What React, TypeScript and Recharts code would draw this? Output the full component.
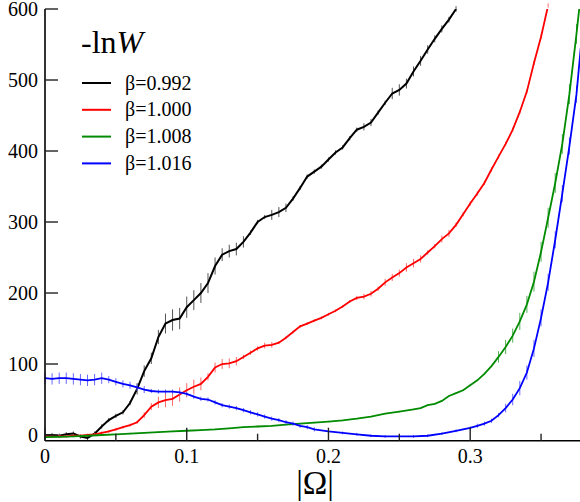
import React from 'react';
import { LineChart, Line, XAxis, YAxis, ErrorBar, Legend } from 'recharts';

// ---------- data ----------
const seriesNames = ['β=0.992', 'β=1.000', 'β=1.008', 'β=1.016'];
const seriesColors = ['#000000', '#ff0000', '#008b00', '#0000ff'];
const barColors = ['#555555', '#ff6a6a', '#55b055', '#6a6aff'];

const blackX = [0, 0.005, 0.01, 0.015, 0.02, 0.025, 0.03, 0.035, 0.04, 0.045, 0.05, 0.055, 0.06, 0.065, 0.07, 0.075, 0.08, 0.085, 0.09, 0.095, 0.1, 0.105, 0.11, 0.115, 0.12, 0.125, 0.13, 0.135, 0.14, 0.145, 0.15, 0.155, 0.16, 0.165, 0.17, 0.175, 0.18, 0.185, 0.19, 0.195, 0.2, 0.205, 0.21, 0.215, 0.22, 0.225, 0.23, 0.235, 0.24, 0.245, 0.25, 0.255, 0.26, 0.265, 0.27, 0.275, 0.28, 0.285, 0.29];
const blackY = [0, 0, -1, 1, 2, -2, -4, 2, 12, 21, 27, 32, 45, 65, 90, 108, 138, 157, 162, 164, 180, 190, 200, 214, 238, 254, 259, 262, 272, 285, 300, 307, 310, 314, 320, 333, 348, 364, 371, 378, 388, 398, 405, 418, 430, 434, 440, 454, 468, 481, 486, 495, 512, 527, 543, 558, 572, 585, 600];
const blackErr = [3, 3, 3, 3, 3, 3, 4, 3, 3, 3, 3, 3, 3, 8, 8, 8, 10, 14, 15, 15, 15, 14, 14, 14, 12, 9, 9, 9, 8, 3, 3, 3, 7, 7, 6, 3, 3, 3, 3, 3, 3, 3, 3, 3, 3, 5, 5, 3, 3, 8, 8, 7, 7, 7, 6, 5, 5, 4, 4];

const redX = [0, 0.005, 0.01, 0.015, 0.02, 0.025, 0.03, 0.035, 0.04, 0.045, 0.05, 0.055, 0.06, 0.065, 0.07, 0.075, 0.08, 0.085, 0.09, 0.095, 0.1, 0.105, 0.11, 0.115, 0.12, 0.125, 0.13, 0.135, 0.14, 0.145, 0.15, 0.155, 0.16, 0.165, 0.17, 0.175, 0.18, 0.185, 0.19, 0.195, 0.2, 0.205, 0.21, 0.215, 0.22, 0.225, 0.23, 0.235, 0.24, 0.245, 0.25, 0.255, 0.26, 0.265, 0.27, 0.275, 0.28, 0.285, 0.29, 0.295, 0.3, 0.305, 0.31, 0.315, 0.32, 0.325, 0.33, 0.335, 0.34, 0.345, 0.35, 0.355];
const redY = [-1, -2, -2, -2, -1, -1, 0, 1, 3, 5, 8, 11, 14, 18, 28, 40, 46, 49, 51, 57, 63, 68, 72, 82, 95, 100, 101, 104, 110, 116, 122, 126, 127, 130, 137, 145, 153, 157, 161, 165, 170, 175, 181, 188, 193, 195, 199, 206, 215, 222, 228, 236, 242, 248, 257, 266, 276, 284, 296, 311, 326, 340, 355, 374, 392, 410, 430, 455, 484, 524, 561, 605];
const redErr = [2, 2, 2, 2, 2, 2, 2, 2, 2, 2, 2, 2, 2, 2, 4, 5, 8, 10, 10, 10, 10, 10, 9, 5, 7, 7, 7, 6, 3, 3, 3, 4, 4, 2, 2, 2, 2, 2, 2, 2, 2, 2, 2, 2, 3, 4, 4, 3, 5, 5, 5, 6, 6, 5, 3, 3, 5, 5, 3, 3, 3, 3, 3, 3, 3, 3, 3, 3, 3, 3, 3, 3];

const greenX = [0, 0.01, 0.02, 0.03, 0.04, 0.05, 0.06, 0.07, 0.08, 0.09, 0.1, 0.11, 0.12, 0.13, 0.14, 0.15, 0.16, 0.17, 0.18, 0.19, 0.2, 0.21, 0.22, 0.23, 0.24, 0.25, 0.26, 0.265, 0.27, 0.275, 0.28, 0.285, 0.29, 0.295, 0.3, 0.305, 0.31, 0.315, 0.32, 0.325, 0.33, 0.335, 0.34, 0.345, 0.35, 0.355, 0.36, 0.365, 0.37, 0.375, 0.378];
const greenY = [-3, -2.5, -2, -1, 0, 1, 2, 3, 4, 5, 6, 7, 8, 9.5, 11, 12, 13, 14.5, 16, 17.5, 19, 20.5, 23, 26, 30, 33, 36, 38, 42, 44, 48, 55, 59, 63, 70, 77, 86, 97, 110, 124, 140, 160, 184, 216, 258, 306, 355, 410, 480, 565, 620];
const greenErr = [1, 1, 1, 1, 1, 1, 1, 1, 1, 1, 1, 1, 1, 1, 1, 1, 1, 1, 1, 1, 1, 1, 1, 1, 1, 1, 1, 1, 1, 1, 1, 1, 1, 1, 1, 1, 1, 1, 8, 10, 10, 12, 12, 14, 14, 14, 14, 14, 14, 14, 14];

const blueX = [0, 0.005, 0.01, 0.015, 0.02, 0.025, 0.03, 0.035, 0.04, 0.045, 0.05, 0.055, 0.06, 0.065, 0.07, 0.075, 0.08, 0.085, 0.09, 0.095, 0.1, 0.105, 0.11, 0.115, 0.12, 0.125, 0.13, 0.135, 0.14, 0.145, 0.15, 0.155, 0.16, 0.165, 0.17, 0.175, 0.18, 0.185, 0.19, 0.2, 0.21, 0.22, 0.23, 0.24, 0.25, 0.26, 0.27, 0.28, 0.29, 0.3, 0.305, 0.31, 0.315, 0.32, 0.325, 0.33, 0.335, 0.34, 0.345, 0.35, 0.355, 0.36, 0.365, 0.37, 0.375, 0.378];
const blueY = [80, 79, 80, 80, 79, 78, 77, 78, 80, 78, 75, 72, 70, 67, 64, 62, 61, 61, 61, 60, 58, 54, 51, 50, 46, 42, 40, 38, 35, 32, 29, 26, 23, 21, 18, 16, 13, 11, 8, 5, 3, 1, -1, -2, -2, -2, -1, 2, 6, 10, 13, 16, 20, 28, 38, 50, 66, 88, 122, 165, 215, 275, 340, 407, 480, 545];
const blueErr = [8, 8, 8, 8, 8, 8, 8, 8, 8, 5, 5, 5, 5, 5, 5, 3, 3, 3, 3, 3, 3, 3, 3, 3, 3, 3, 3, 3, 3, 3, 3, 3, 3, 3, 3, 3, 3, 3, 3, 2, 2, 2, 2, 2, 2, 2, 2, 2, 2, 2, 3, 3, 3, 3, 6, 8, 10, 10, 12, 12, 12, 12, 12, 12, 12, 12];

const xTicks = [0, 0.05, 0.1, 0.15, 0.2, 0.25, 0.3, 0.35];
const xTickLabels = ['0', '', '0.1', '', '0.2', '', '0.3', ''];
const yTicks = [0, 100, 200, 300, 400, 500, 600];
const yTickLabels = ['0', '100', '200', '300', '400', '500', '600'];

const rows = (xs: number[], ys: number[], es: number[]) =>
  xs.map((x, i) => ({ x, y: ys[i], err: es[i] }));

const seriesData = [
  rows(blackX, blackY, blackErr),
  rows(redX, redY, redErr),
  rows(greenX, greenY, greenErr),
  rows(blueX, blueY, blueErr),
];

const FONT = '"Liberation Serif", "DejaVu Serif", serif';

const XTick = (p: any) => {
  const idx = xTicks.indexOf(p.payload.value);
  const lab = xTickLabels[idx] ?? '';
  const major = lab !== '';
  const len = major ? 13 : 7;
  const dir = p.side === 'bottom' ? -1 : 1;
  return (
    <g>
      <line x1={p.x} x2={p.x} y1={p.y} y2={p.y + dir * len} stroke="#222" strokeWidth={1.4} />
      {p.side === 'bottom' && major ? (
        <text x={p.x} y={p.y + 22} textAnchor="middle" fontFamily={FONT} fontSize={20} fill="#000">
          {lab}
        </text>
      ) : null}
    </g>
  );
};

const YTick = (p: any) => {
  const idx = yTicks.indexOf(p.payload.value);
  const lab = yTickLabels[idx] ?? '';
  const dir = p.side === 'left' ? 1 : -1;
  return (
    <g>
      <line x1={p.x} x2={p.x + dir * 13} y1={p.y} y2={p.y} stroke="#222" strokeWidth={1.4} />
      {p.side === 'left' ? (
        <text x={p.x - 7} y={p.y + 7} textAnchor="end" fontFamily={FONT} fontSize={20} fill="#000">
          {lab}
        </text>
      ) : null}
    </g>
  );
};

const LegendBox = () => (
  <svg width={260} height={180} style={{ display: 'block', overflow: 'visible' }}>
    <text x={81} y={53} fontFamily={FONT} fontSize={32} fill="#000">
      -ln<tspan fontStyle="italic">W</tspan>
    </text>
    {seriesNames.map((n, i) => {
      const ly = 83 + i * 26.8;
      return (
        <g key={n}>
          <line x1={82} x2={111} y1={ly} y2={ly} stroke={seriesColors[i]} strokeWidth={2} />
          <text x={125} y={ly + 6.5} fontFamily={FONT} fontSize={20} fill="#000">
            {n}
          </text>
        </g>
      );
    })}
  </svg>
);

export default function App() {
  return (
    <div
      style={{
        position: 'absolute',
        left: 0,
        top: 0,
        width: 580,
        height: 502,
        overflow: 'hidden',
        background: '#fff',
      }}
    >
      <LineChart width={590} height={502} margin={{ top: 9, right: 5, bottom: 0, left: 0 }}>
        <XAxis
          xAxisId="b"
          type="number"
          dataKey="x"
          domain={[0, 0.381]}
          allowDataOverflow
          ticks={xTicks}
          interval={0}
          tickSize={0}
          tickMargin={0}
          height={61.3}
          axisLine={{ stroke: '#000', strokeWidth: 1.6 }}
          tickLine={false}
          tick={(p: any) => <XTick {...p} side="bottom" />}
          label={{
            content: (lp: any) => {
              const vb = lp.viewBox || { x: 45, y: 440.7, width: 540 };
              return (
                <text
                  x={vb.x + vb.width / 2}
                  y={vb.y + 53}
                  textAnchor="middle"
                  fontFamily={FONT}
                  fontSize={33}
                  fill="#000"
                >
                  |Ω|
                </text>
              );
            },
          }}
        />
        <XAxis
          xAxisId="t"
          orientation="top"
          type="number"
          dataKey="x"
          domain={[0, 0.381]}
          allowDataOverflow
          ticks={xTicks}
          interval={0}
          tickSize={0}
          tickMargin={0}
          height={0}
          axisLine={{ stroke: '#000', strokeWidth: 1.6 }}
          tickLine={false}
          tick={(p: any) => <XTick {...p} side="top" />}
        />
        <YAxis
          yAxisId="l"
          type="number"
          domain={[-8, 600]}
          allowDataOverflow
          ticks={yTicks}
          interval={0}
          tickSize={0}
          tickMargin={0}
          width={45}
          axisLine={{ stroke: '#000', strokeWidth: 1.6 }}
          tickLine={false}
          tick={(p: any) => <YTick {...p} side="left" />}
        />
        <YAxis
          yAxisId="r"
          orientation="right"
          type="number"
          domain={[-8, 600]}
          allowDataOverflow
          ticks={yTicks}
          interval={0}
          tickSize={0}
          tickMargin={0}
          width={0}
          axisLine={{ stroke: '#000', strokeWidth: 1.6 }}
          tickLine={false}
          tick={(p: any) => <YTick {...p} side="right" />}
        />
        <Legend
          layout="vertical"
          align="center"
          verticalAlign="middle"
          wrapperStyle={{ left: 0, top: 0, width: 260, height: 180 }}
          content={() => <LegendBox />}
        />
        {seriesData.map((d, i) => (
          <Line
            key={seriesNames[i]}
            xAxisId="b"
            yAxisId="l"
            data={d}
            dataKey="y"
            name={seriesNames[i]}
            type="linear"
            stroke={seriesColors[i]}
            strokeWidth={i === 0 ? 2 : 1.8}
            dot={false}
            activeDot={false}
            isAnimationActive={false}
          >
            <ErrorBar
              dataKey="err"
              direction="y"
              width={0}
              stroke={barColors[i]}
              strokeWidth={1}
              isAnimationActive={false}
            />
          </Line>
        ))}
      </LineChart>
    </div>
  );
}
